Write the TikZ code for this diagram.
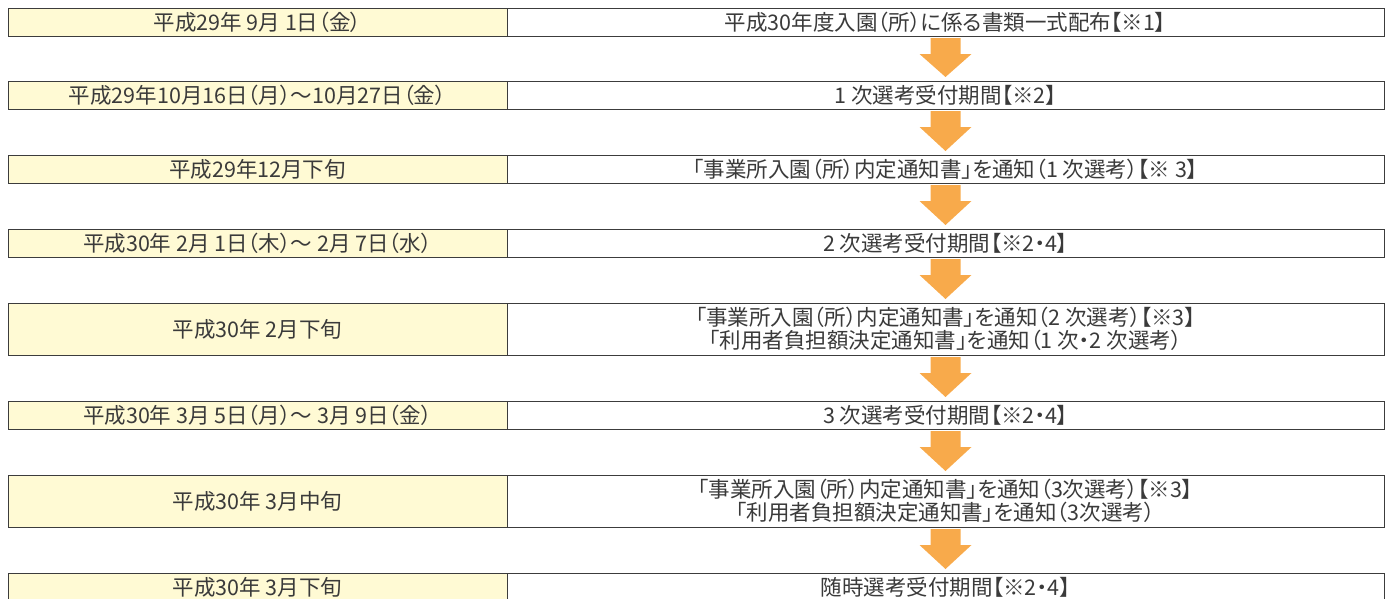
\documentclass[tikz,border=0pt]{standalone}
\usepackage{fontspec}
\setmainfont[RawFeature=+palt]{Noto Sans CJK JP}
\usetikzlibrary{calc}
\definecolor{txt}{HTML}{3A3A3A}
\definecolor{edge}{HTML}{3C3C3C}
\definecolor{datefill}{HTML}{FFFAD4}
\definecolor{arrowc}{HTML}{F8AA4B}
\tikzset{
  x=1pt, y=-1pt,
  base/.style={draw=edge, line width=1pt, inner sep=0pt, outer sep=0pt, text=txt,
    font=\fontsize{21.5}{23.5}\selectfont, align=center},
  datebox/.style={base, fill=datefill, minimum width=499pt},
  eventbox/.style={base, fill=white, minimum width=877pt},
}
\newcommand\flowarrow[2]{%
  \fill[arrowc] ($(#1.south)+(-15,2)$) -- ($(#1.south)+(15,2)$) -- ($(#1.south)+(15,18)$)
    -- ($(#1.south)+(26,18)$) -- ($(#2.north)+(0,-4)$) -- ($(#1.south)+(-26,18)$)
    -- ($(#1.south)+(-15,18)$) -- cycle;}
\begin{document}
\begin{tikzpicture}
\useasboundingbox (0,0) rectangle (1392,598);
% row 1
\node[datebox, minimum height=28pt] (L1) at (257.5,22) {平成29年 9月 1日（金）};
\node[eventbox, minimum height=28pt] (R1) at (945.5,22) {平成30年度入園（所）に係る書類一式配布【※1】};
% row 2
\node[datebox, minimum height=28pt] (L2) at (257.5,95) {平成29年10月16日（月）～10月27日（金）};
\node[eventbox, minimum height=28pt] (R2) at (945.5,95) {1 次選考受付期間【※2】};
% row 3
\node[datebox, minimum height=28pt] (L3) at (257.5,169) {平成29年12月下旬};
\node[eventbox, minimum height=28pt] (R3) at (945.5,169) {「事業所入園（所）内定通知書」を通知（1 次選考）【※ 3】};
% row 4
\node[datebox, minimum height=28pt] (L4) at (257.5,243) {平成30年 2月 1日（木）～ 2月 7日（水）};
\node[eventbox, minimum height=28pt] (R4) at (945.5,243) {2 次選考受付期間【※2・4】};
% row 5
\node[datebox, minimum height=52pt] (L5) at (257.5,329) {平成30年 2月下旬};
\node[eventbox, minimum height=52pt] (R5) at (945.5,329) {「事業所入園（所）内定通知書」を通知（2 次選考）【※3】\\「利用者負担額決定通知書」を通知（1 次・2 次選考）};
% row 6
\node[datebox, minimum height=28pt] (L6) at (257.5,415) {平成30年 3月 5日（月）～ 3月 9日（金）};
\node[eventbox, minimum height=28pt] (R6) at (945.5,415) {3 次選考受付期間【※2・4】};
% row 7
\node[datebox, minimum height=52pt] (L7) at (257.5,501) {平成30年 3月中旬};
\node[eventbox, minimum height=52pt] (R7) at (945.5,501) {「事業所入園（所）内定通知書」を通知（3次選考）【※3】\\「利用者負担額決定通知書」を通知（3次選考）};
% row 8
\node[datebox, minimum height=28pt] (L8) at (257.5,587) {平成30年 3月下旬};
\node[eventbox, minimum height=28pt] (R8) at (945.5,587) {随時選考受付期間【※2・4】};
% arrows
\flowarrow{R1}{R2}
\flowarrow{R2}{R3}
\flowarrow{R3}{R4}
\flowarrow{R4}{R5}
\flowarrow{R5}{R6}
\flowarrow{R6}{R7}
\flowarrow{R7}{R8}
\end{tikzpicture}
\end{document}
